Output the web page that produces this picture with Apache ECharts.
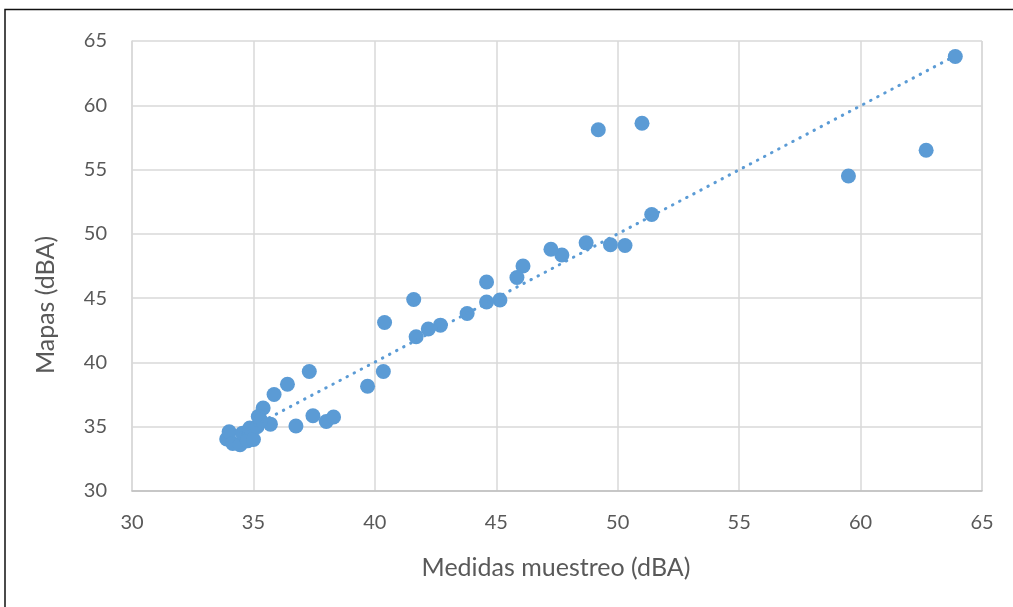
<!DOCTYPE html>
<html>
<head>
<meta charset="utf-8">
<title>Mapas vs Medidas muestreo</title>
<script src="https://cdn.jsdelivr.net/npm/echarts@6/dist/echarts.min.js"></script>
<style>
  html, body { margin: 0; padding: 0; background: #ffffff; }
  #chart { width: 1013px; height: 607px; }
</style>
</head>
<body>
<div id="chart"></div>
<script>
// Sampled levels (x) against noise-map levels (y), both in dBA
const medidas = [
  63.9, 62.7, 59.5, 51.0, 49.2, 51.4, 50.3, 49.7, 48.7, 47.7,
  47.25, 46.1, 45.85, 44.6, 45.15, 44.6, 43.8, 42.7, 42.2, 41.7,
  41.6, 40.4, 40.35, 39.7, 37.3, 36.4, 35.85, 35.4, 35.2, 35.7,
  36.75, 37.45, 38.0, 38.3,
  33.9, 34.0, 34.15, 34.45, 34.55, 34.75, 34.85, 35.0, 35.15, 35.3
];
const mapas = [
  63.8, 56.5, 54.5, 58.6, 58.1, 51.5, 49.1, 49.15, 49.3, 48.35,
  48.8, 47.5, 46.6, 46.25, 44.85, 44.7, 43.8, 42.9, 42.6, 42.0,
  44.9, 43.1, 39.3, 38.15, 39.3, 38.3, 37.5, 36.45, 35.8, 35.2,
  35.05, 35.85, 35.4, 35.75,
  34.05, 34.6, 33.7, 33.6, 34.5, 33.9, 34.9, 34.0, 35.0, 35.5
];
// Linear trendline endpoints (x, y)
const trendX = [33.9, 63.9];
const trendY = [33.95, 63.85];
// Axis tick labels
const ticks = [30, 35, 40, 45, 50, 55, 60, 65];

const points = medidas.map((x, i) => [x, mapas[i]]);
const trend = trendX.map((x, i) => [x, trendY[i]]);

const textColor = '#595959';
const gridColor = '#d9d9d9';
const blue = '#5b9bd5';
const font = 'Lato, "Open Sans", sans-serif';

const chart = echarts.init(document.getElementById('chart'), null, { renderer: 'canvas' });

chart.setOption({
  animation: false,
  backgroundColor: '#ffffff',
  grid: { left: 132, right: 31, top: 41, bottom: 116 },
  xAxis: {
    type: 'value',
    min: ticks[0],
    max: ticks[ticks.length - 1],
    interval: 5,
    axisLine: { show: true, lineStyle: { color: '#bfbfbf', width: 1.5 } },
    axisTick: { show: false },
    axisLabel: { color: textColor, fontFamily: font, fontSize: 20, margin: 22 },
    splitLine: { show: true, lineStyle: { color: gridColor, width: 1.5 } }
  },
  yAxis: {
    type: 'value',
    min: ticks[0],
    max: ticks[ticks.length - 1],
    interval: 5,
    axisLine: { show: true, lineStyle: { color: gridColor, width: 1.5 } },
    axisTick: { show: false },
    axisLabel: { color: textColor, fontFamily: font, fontSize: 20, margin: 25 },
    splitLine: { show: true, lineStyle: { color: gridColor, width: 1.5 } }
  },
  graphic: [
    {
      type: 'rect',
      silent: true,
      shape: { x: 5, y: 9.5, width: 1100, height: 700 },
      style: { fill: 'none', stroke: '#111111', lineWidth: 1.5 }
    },
    {
      type: 'line',
      silent: true,
      shape: { x1: 982, y1: 41, x2: 982, y2: 491 },
      style: { stroke: gridColor, lineWidth: 1.5 }
    },
    {
      type: 'text',
      silent: true,
      x: 556,
      y: 568,
      style: {
        text: 'Medidas muestreo (dBA)',
        fill: textColor,
        font: '25px ' + font,
        align: 'center',
        verticalAlign: 'middle'
      }
    },
    {
      type: 'text',
      silent: true,
      x: 46,
      y: 305,
      rotation: Math.PI / 2,
      style: {
        text: 'Mapas (dBA)',
        fill: textColor,
        font: '25px ' + font,
        align: 'center',
        verticalAlign: 'middle'
      }
    }
  ],
  series: [
    {
      type: 'line',
      data: trend,
      symbol: 'none',
      z: 3,
      lineStyle: { color: blue, width: 3, type: [0.5, 7.5], cap: 'round' }
    },
    {
      type: 'scatter',
      data: points,
      symbol: 'circle',
      symbolSize: 15,
      z: 2,
      itemStyle: { color: blue, opacity: 1 }
    }
  ]
});
</script>
</body>
</html>
